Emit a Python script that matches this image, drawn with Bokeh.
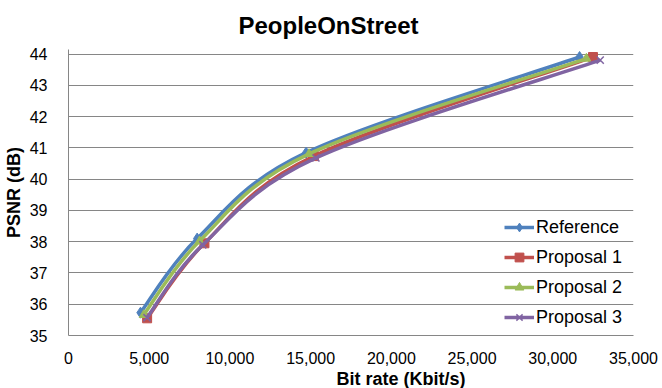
from bokeh.plotting import figure
from bokeh.models import (Range1d, FixedTicker, NumeralTickFormatter, Legend, LegendItem, Title)
from bokeh.embed import file_html
from bokeh.resources import INLINE

# ---- data ----
series_names = ["Reference", "Proposal 1", "Proposal 2", "Proposal 3"]
ref_rate = [4460, 7970, 14720, 31660]
ref_psnr = [35.73, 38.10, 40.85, 43.91]
p1_rate = [4870, 8420, 15200, 32490]
p1_psnr = [35.55, 37.95, 40.74, 43.91]
p2_rate = [4660, 8120, 14900, 32080]
p2_psnr = [35.66, 38.02, 40.81, 43.86]
p3_rate = [4860, 8320, 15330, 32940]
p3_psnr = [35.57, 37.90, 40.68, 43.81]
x_ticks = [0, 5000, 10000, 15000, 20000, 25000, 30000, 35000]
y_ticks = [35, 36, 37, 38, 39, 40, 41, 42, 43, 44]
title_text = "PeopleOnStreet"
x_title = "Bit rate (Kbit/s)"
y_title = "PSNR (dB)"

colors = ["#4F81BD", "#C0504D", "#9BBB59", "#8064A2"]
markers = ["diamond", "square", "triangle", "x"]
rates = [ref_rate, p1_rate, p2_rate, p3_rate]
psnrs = [ref_psnr, p1_psnr, p2_psnr, p3_psnr]

FONT = "Liberation Sans"

p = figure(width=662, height=388, output_backend="svg", toolbar_location=None,
           x_range=Range1d(0, 35000), y_range=Range1d(35, 44.15),
           min_border_left=58, min_border_right=29, min_border_top=49, min_border_bottom=50)
p.outline_line_color = None
p.background_fill_color = "white"
p.border_fill_color = "white"

p.title = Title(text=title_text, align="left", offset=170, standoff=17,
                vertical_align="top",
                text_font=FONT, text_font_size="24px", text_font_style="bold",
                text_color="#000000")

p.xaxis.ticker = FixedTicker(ticks=x_ticks)
p.yaxis.ticker = FixedTicker(ticks=y_ticks)
p.xaxis.formatter = NumeralTickFormatter(format="0,0")
for ax in (p.xaxis, p.yaxis):
    ax.major_tick_line_color = None
    ax.minor_tick_line_color = None
    ax.axis_line_color = "#868686"
    ax.major_label_text_font = FONT
    ax.major_label_text_font_size = "16px"
    ax.major_label_text_color = "#000000"
p.xaxis.major_label_standoff = 10
p.yaxis.major_label_standoff = 15
p.yaxis.axis_label = y_title
p.yaxis.axis_label_text_font = FONT
p.yaxis.axis_label_text_font_size = "18px"
p.yaxis.axis_label_text_font_style = "bold"
p.yaxis.axis_label_text_color = "#000000"
p.yaxis.axis_label_standoff = 3

p.add_layout(Title(text=x_title, align="left", offset=268, standoff=0,
                   text_font=FONT, text_font_size="18px", text_font_style="bold",
                   text_color="#000000"), "below")

p.xgrid.grid_line_color = None
p.ygrid.grid_line_color = "#868686"
p.ygrid.grid_line_width = 1

items = []
for name, xs, ys, c, m in zip(series_names, rates, psnrs, colors, markers):
    n = len(xs)
    x0, y0, x1, y1, cx0, cy0, cx1, cy1 = [], [], [], [], [], [], [], []
    for i in range(n - 1):
        a = max(i - 1, 0)
        b = min(i + 2, n - 1)
        x0.append(xs[i]); y0.append(ys[i])
        x1.append(xs[i + 1]); y1.append(ys[i + 1])
        cx0.append(xs[i] + (xs[i + 1] - xs[a]) / 6.0)
        cy0.append(ys[i] + (ys[i + 1] - ys[a]) / 6.0)
        cx1.append(xs[i + 1] - (xs[b] - xs[i]) / 6.0)
        cy1.append(ys[i + 1] - (ys[b] - ys[i]) / 6.0)
    br = p.bezier(x0=x0, y0=y0, x1=x1, y1=y1, cx0=cx0, cy0=cy0, cx1=cx1, cy1=cy1,
                  line_color=c, line_width=3.5)
    if m == "x":
        sr = p.scatter(xs, ys, marker=m, size=10, line_color=c, line_width=1.5)
    else:
        sr = p.scatter(xs, ys, marker=m, size=9 if m != "diamond" else 11,
                       fill_color=c, line_color=c)
    items.append(LegendItem(label=name, renderers=[br, sr]))

legend = Legend(items=items, location=(436, 7), orientation="vertical",
                background_fill_alpha=0, border_line_color=None,
                label_text_font=FONT, label_text_font_size="18px", label_text_color="#000000",
                glyph_width=30, glyph_height=22, label_height=22, spacing=8,
                label_standoff=2, padding=0, margin=0)
p.add_layout(legend, "center")

open("out.html", "w").write(file_html(p, INLINE))
